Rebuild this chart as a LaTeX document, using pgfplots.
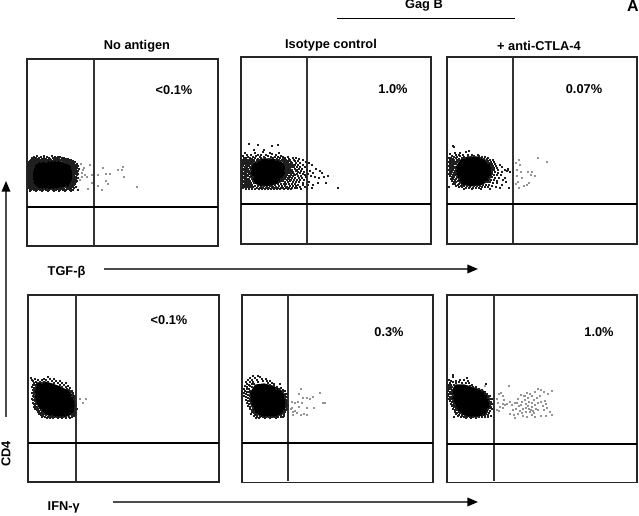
\documentclass[border=0pt]{standalone}
\usepackage{fontspec}
\setmainfont{Liberation Sans}
\usepackage{pgfplots}
\pgfplotsset{compat=1.18}
\usetikzlibrary{arrows.meta}
\newcommand{\lab}{\bfseries\fontsize{9.6}{11}\selectfont}
\pgfplotsset{
  panel/.style n args={4}{
    scale only axis, clip=false, anchor=south west,
    at={({#1*0.75pt},{(516-#4)*0.75pt})},
    width={(#2-#1)*0.75pt}, height={(#4-#3)*0.75pt},
    xmin=#1, xmax=#2, ymin=#3, ymax=#4, y dir=reverse,
    xtick=\empty, ytick=\empty,
    axis line style={line width=0.95pt, color=black!85},
  },
  core/.style={fill=black, draw=black, line width=2.4pt, line join=round, forget plot},
  dots/.style={only marks, mark=square*, mark size=0.27pt, mark options={draw=black!88, fill=black!88, line width=0pt}, forget plot},
  pale/.style={only marks, mark=square*, mark size=0.25pt, mark options={draw=black!42, fill=black!42, line width=0pt}, forget plot},
  gate/.style={line width=0.8pt, color=black!80, no marks, forget plot},
  gateh/.style={line width=0.85pt, color=black, no marks, forget plot},
}
\begin{document}
\begin{tikzpicture}[x=0.75pt,y=0.75pt]
\useasboundingbox (0,0) rectangle (639,516);
% ---- panel 1
\begin{axis}[panel={27}{218}{59}{246}]
\addplot[gate] coordinates {(94,59)(94,245)};
\addplot[gateh] coordinates {(27,207)(218,207)};
\addplot[core] coordinates {(36,165)(42,163)(52,162)(62,163)(69,166)(72,172)(72,180)(69,185)(60,187)(48,188)(38,187)(34,182)(33,174)} --cycle;
\addplot[dots] coordinates {(37,156)(44,156)(52,156)(58,157)(34,157)(41,157)(47,157)(55,157)(60,157)(64,158)(32,158)(36,158)(39,158)(44,158)(49,158)(53,158)(57,158)(62,158)(66,159)(33,159)(35,159)(38,159)(42,159)(46,159)(50,159)(54,159)(56,159)(59,159)(63,159)(68,159)(71,160)(31,160)(34,160)(37,160)(40,160)(43,160)(45,160)(48,160)(51,160)(55,160)(58,160)(61,160)(64,160)(66,160)(69,160)(73,161)(30,161)(32,161)(35,161)(37,161)(39,161)(42,161)(44,161)(47,161)(50,161)(53,161)(57,161)(60,161)(63,161)(65,161)(68,161)(70,161)(72,161)(75,162)(29,162)(31,162)(33,162)(35,162)(38,162)(41,162)(46,162)(63,162)(66,162)(69,162)(71,162)(74,163)(30,163)(32,163)(34,163)(37,163)(66,163)(68,163)(70,163)(72,163)(73,163)(77,164)(29,164)(31,164)(33,164)(35,164)(69,164)(71,164)(74,164)(76,165)(30,165)(32,165)(34,165)(71,165)(73,165)(75,165)(78,166)(28,166)(31,166)(33,166)(72,166)(74,166)(76,167)(29,167)(32,167)(34,167)(72,167)(75,167)(77,168)(30,168)(31,168)(33,168)(73,168)(74,168)(79,169)(29,169)(32,169)(72,169)(75,169)(76,170)(28,170)(30,170)(33,170)(74,170)(78,171)(29,171)(31,171)(73,171)(75,171)(77,172)(30,172)(32,172)(73,172)(76,173)(28,173)(31,173)(74,173)(78,174)(29,174)(32,174)(73,174)(75,174)(30,175)(31,175)(73,175)(77,175)(28,176)(32,176)(74,176)(76,177)(29,177)(31,177)(73,177)(75,177)(30,178)(32,178)(73,178)(78,178)(29,179)(31,179)(74,179)(76,179)(28,180)(32,180)(73,180)(75,180)(30,181)(33,181)(72,181)(77,181)(29,182)(31,182)(74,182)(76,182)(30,183)(32,183)(71,183)(73,183)(29,184)(33,184)(72,184)(75,184)(30,185)(31,185)(34,185)(70,185)(74,185)(29,186)(32,186)(35,186)(71,186)(73,186)(30,187)(33,187)(36,187)(66,187)(69,187)(72,187)(76,187)(29,188)(31,188)(34,188)(37,188)(60,188)(63,188)(67,188)(70,188)(74,188)(30,189)(32,189)(35,189)(38,189)(41,189)(44,189)(47,189)(51,189)(55,189)(58,189)(61,189)(64,189)(68,189)(71,189)(31,190)(34,190)(37,190)(40,190)(43,190)(46,190)(49,190)(53,190)(56,190)(60,190)(63,190)(66,190)(70,190)(73,190)(30,191)(36,191)(42,191)(48,191)(54,191)(59,191)(65,191)(71,191)(78,190)};
\addplot[pale] coordinates {(90,165)(92,175)(87,177)(88,189)(92,183)(98,175)(103,168)(106,174)(110,174)(106,181)(108,184)(98,186)(102,190)(118,170)(123,167)(122,170)(124,177)(137,187)(82,173)(83,170)(85,175)(80,180)(84,168)(81,164)(82,177)};
\node[font=\lab] at (axis cs:174,90) {<0.1\%};
\end{axis}
% ---- panel 2
\begin{axis}[panel={241}{431}{57}{244}]
\addplot[gate] coordinates {(307,57)(307,243)};
\addplot[gateh] coordinates {(241,204)(431,204)};
\addplot[core] coordinates {(256,163)(263,160)(272,160)(280,162)(284,167)(284,175)(280,181)(272,184)(262,185)(255,182)(252,175)(252,168)} --cycle;
\addplot[dots] coordinates {(249,144)(258,145)(272,146)(278,145)(254,150)(264,150)(245,153)(255,153)(263,152)(270,153)(279,153)(247,155)(251,155)(258,155)(261,155)(266,155)(272,154)(276,155)(281,156)(243,156)(248,157)(253,157)(256,156)(260,157)(264,157)(268,156)(271,157)(275,157)(278,157)(283,157)(288,157)(296,158)(244,158)(246,158)(250,158)(252,159)(255,158)(258,159)(261,158)(265,158)(269,159)(273,158)(277,159)(280,158)(283,159)(285,158)(289,159)(293,158)(299,159)(243,160)(245,160)(247,160)(249,160)(251,160)(254,160)(257,160)(260,160)(276,160)(279,160)(282,160)(284,160)(286,160)(290,160)(294,160)(303,160)(242,161)(244,161)(246,161)(248,161)(250,162)(252,161)(254,161)(257,162)(280,161)(283,161)(285,162)(287,161)(289,161)(291,162)(295,161)(298,161)(306,162)(243,162)(245,163)(247,163)(249,163)(251,163)(253,163)(284,163)(286,163)(288,163)(290,164)(292,163)(296,163)(300,163)(309,163)(242,164)(244,164)(246,165)(248,165)(250,164)(252,165)(285,165)(287,165)(289,165)(291,165)(293,165)(295,165)(298,165)(303,165)(312,165)(243,166)(245,167)(247,167)(249,166)(251,167)(286,167)(288,167)(290,167)(292,167)(294,167)(297,167)(300,167)(305,167)(242,168)(244,169)(246,169)(248,169)(250,168)(286,169)(288,169)(290,169)(292,170)(295,169)(297,170)(299,169)(302,169)(307,170)(316,169)(243,170)(245,171)(247,171)(249,171)(251,170)(285,171)(287,171)(289,171)(291,171)(293,172)(296,171)(298,172)(301,171)(304,172)(310,171)(320,171)(242,172)(244,173)(246,173)(248,172)(250,173)(286,173)(288,173)(290,173)(292,173)(294,174)(297,174)(300,173)(303,174)(308,174)(313,173)(243,174)(245,175)(247,175)(249,174)(251,175)(285,175)(287,175)(289,176)(291,175)(293,176)(295,175)(298,176)(301,176)(305,175)(311,176)(242,176)(244,177)(246,177)(248,176)(250,177)(253,177)(284,177)(286,177)(288,178)(290,177)(292,178)(295,178)(299,178)(302,178)(306,177)(315,177)(324,177)(243,178)(245,179)(247,179)(249,179)(252,179)(281,179)(283,179)(285,179)(287,180)(289,179)(291,180)(294,180)(297,180)(300,180)(304,180)(242,180)(244,181)(246,181)(248,181)(250,181)(253,181)(279,182)(281,181)(283,181)(285,182)(288,182)(290,181)(293,182)(296,182)(299,182)(303,183)(309,182)(318,183)(243,182)(245,183)(247,183)(249,183)(251,183)(254,183)(258,186)(272,186)(275,185)(278,184)(281,184)(284,184)(286,184)(289,184)(292,184)(295,184)(298,185)(303,185)(308,185)(313,185)(242,184)(244,185)(246,185)(248,185)(250,185)(252,185)(255,186)(261,187)(264,186)(267,187)(270,186)(273,187)(276,187)(279,186)(282,186)(285,186)(287,187)(290,186)(293,186)(296,186)(300,187)(305,187)(243,186)(245,187)(247,187)(249,187)(251,187)(253,187)(257,188)(260,188)(263,188)(266,188)(269,188)(272,188)(275,188)(278,188)(281,188)(283,188)(286,188)(289,188)(292,188)(295,188)(243,188)(246,189)(249,189)(252,189)(255,189)(259,189)(262,189)(265,189)(268,189)(271,189)(274,189)(277,189)(280,189)(284,189)(288,189)(291,189)(297,188)(301,189)(307,189)(312,188)(338,188)(328,176)(322,173)(319,178)(326,183)};
\node[font=\lab] at (axis cs:393,89) {1.0\%};
\end{axis}
% ---- panel 3
\begin{axis}[panel={447}{637}{57}{244}]
\addplot[gate] coordinates {(513,57)(513,243)};
\addplot[gateh] coordinates {(447,204)(637,204)};
\addplot[core] coordinates {(461,161)(468,158)(477,158)(485,161)(490,166)(491,173)(488,180)(480,184)(470,185)(462,183)(458,176)(457,168)} --cycle;
\addplot[dots] coordinates {(453,146)(454,147)(469,151)(455,153)(460,153)(466,152)(450,154)(456,155)(459,155)(463,155)(468,155)(472,155)(452,156)(454,157)(457,157)(460,156)(464,157)(468,157)(471,157)(474,156)(478,155)(449,158)(451,158)(453,159)(456,158)(459,159)(462,158)(465,158)(479,156)(482,157)(485,157)(488,158)(450,160)(452,160)(454,160)(457,160)(459,161)(481,158)(484,159)(487,159)(490,160)(493,160)(449,162)(451,162)(453,162)(455,162)(457,162)(486,161)(488,161)(491,162)(494,162)(450,164)(452,164)(454,164)(456,164)(488,163)(490,163)(492,164)(495,164)(449,166)(451,166)(453,166)(455,167)(491,166)(493,166)(496,166)(500,165)(450,168)(452,168)(454,168)(456,169)(492,168)(494,168)(497,168)(502,167)(449,170)(451,170)(453,170)(455,171)(492,170)(494,170)(498,170)(505,170)(450,172)(452,172)(454,173)(456,173)(492,172)(495,172)(498,173)(502,172)(508,170)(449,174)(451,174)(453,175)(455,175)(457,177)(492,174)(494,175)(497,175)(501,175)(507,171)(450,176)(452,177)(454,177)(456,179)(459,179)(490,177)(492,177)(495,178)(499,178)(505,178)(451,179)(453,179)(455,180)(458,181)(460,182)(489,179)(491,180)(494,180)(497,181)(503,180)(452,181)(454,182)(456,182)(459,184)(462,185)(486,182)(488,182)(490,182)(493,183)(497,183)(506,182)(453,184)(455,184)(458,185)(461,186)(464,186)(467,186)(470,187)(474,186)(477,186)(480,186)(483,185)(486,185)(489,185)(492,186)(502,185)(449,187)(456,186)(459,187)(462,187)(466,188)(469,188)(473,188)(476,188)(479,188)(482,187)(485,187)(488,187)(496,187)(500,188)(509,188)(464,189)(472,189)(481,189)(490,189)(508,169)(510,172)};
\addplot[pale] coordinates {(516,163)(519,160)(520,165)(517,170)(521,172)(517,176)(522,178)(518,182)(519,188)(524,186)(527,185)(529,183)(532,172)(531,175)(535,176)(538,158)(547,162)(528,172)(516,184)};
\node[font=\lab] at (axis cs:584,89) {0.07\%};
\end{axis}
% ---- panel 4
\begin{axis}[panel={28}{219}{295}{482}]
\addplot[gate] coordinates {(76,295)(76,481)};
\addplot[gateh] coordinates {(28,443)(219,443)};
\addplot[core] coordinates {(38,384)(45,383)(52,385)(60,388)(68,392)(73,398)(74,406)(72,413)(64,416)(54,416)(46,413)(40,407)(36,398)(36,390)} --cycle;
\addplot[dots] coordinates {(48,377)(31,378)(35,379)(44,379)(50,379)(54,379)(32,380)(38,380)(42,380)(46,380)(52,381)(56,381)(60,381)(33,381)(36,382)(40,382)(44,382)(48,382)(54,383)(58,383)(62,383)(66,383)(34,383)(37,383)(42,383)(60,385)(64,385)(68,386)(33,385)(35,385)(36,386)(62,387)(66,387)(70,388)(32,387)(34,388)(35,388)(67,389)(69,390)(72,391)(33,390)(35,390)(34,392)(71,392)(73,393)(70,391)(32,393)(34,394)(35,394)(73,395)(75,396)(72,396)(33,396)(34,397)(32,399)(35,399)(75,398)(74,399)(33,400)(35,401)(36,402)(75,401)(33,403)(34,404)(36,404)(75,404)(76,405)(35,406)(37,407)(34,407)(75,407)(36,408)(38,409)(35,409)(75,409)(77,409)(37,410)(39,411)(41,410)(75,411)(38,412)(40,413)(42,412)(74,413)(76,413)(39,414)(42,414)(44,414)(73,414)(75,415)(41,415)(43,416)(46,415)(49,416)(52,416)(72,415)(74,416)(42,417)(45,417)(48,417)(51,417)(54,417)(57,417)(60,417)(63,417)(66,417)(69,417)(72,417)(47,418)(50,418)(53,418)(58,418)(62,418)(66,418)(70,418)};
\addplot[pale] coordinates {(80,399)(83,403)(86,399)};
\node[font=\lab] at (axis cs:169,320) {<0.1\%};
\end{axis}
% ---- panel 5
\begin{axis}[panel={242}{433}{295}{482.5}]
\addplot[gate] coordinates {(288,295)(288,481.5)};
\addplot[gateh] coordinates {(242,443)(433,443)};
\addplot[core] coordinates {(256,386)(264,385)(272,387)(280,391)(284,397)(285,405)(282,413)(274,416)(263,416)(256,412)(252,404)(251,394)} --cycle;
\addplot[dots] coordinates {(253,376)(258,376)(260,377)(250,378)(255,378)(262,379)(266,379)(248,380)(252,380)(257,380)(263,381)(267,381)(270,381)(272,383)(246,382)(250,382)(253,382)(258,382)(268,383)(274,384)(280,384)(247,384)(249,385)(252,384)(254,384)(270,385)(274,386)(277,387)(281,388)(245,386)(247,387)(250,386)(252,387)(276,389)(279,389)(283,390)(285,391)(244,389)(247,389)(249,389)(283,392)(285,394)(287,394)(245,391)(247,392)(249,392)(250,391)(285,396)(287,397)(285,398)(244,393)(246,394)(248,395)(250,396)(286,400)(287,401)(244,396)(246,397)(248,398)(250,399)(286,402)(287,404)(246,400)(248,401)(250,401)(251,403)(286,405)(288,406)(247,403)(249,404)(252,406)(286,407)(287,409)(248,406)(250,407)(253,408)(286,410)(284,411)(250,409)(252,410)(254,411)(285,412)(283,413)(252,412)(254,413)(256,414)(284,414)(281,415)(284,416)(251,414)(255,415)(257,416)(260,416)(278,416)(281,417)(254,416)(257,417)(260,417)(263,417)(266,417)(269,417)(272,417)(275,417)(278,417)(283,417)(256,418)(259,418)(265,418)(270,418)(276,418)};
\addplot[pale] coordinates {(320,393)(301,389)(298,402)(303,398)(307,398)(313,397)(325,403)(323,403)(307,408)(314,408)(307,415)(301,415)(293,412)(292,402)(295,403)(299,394)(302,403)(310,399)(297,413)(291,409)(292,408)(295,411)(299,407)(304,414)(293,415)};
\node[font=\lab] at (axis cs:389,332) {0.3\%};
\end{axis}
% ---- panel 6
\begin{axis}[panel={447}{637}{295}{482.5}]
\addplot[gate] coordinates {(494,295)(494,481.5)};
\addplot[gateh] coordinates {(447,444)(637,444)};
\addplot[core] coordinates {(456,386)(464,386)(474,389)(483,392)(488,398)(489,406)(485,413)(476,416)(466,415)(459,410)(454,401)(453,392)} --cycle;
\addplot[dots] coordinates {(453,375)(453,377)(467,378)(449,380)(451,381)(456,381)(460,380)(464,380)(468,381)(450,383)(453,382)(456,383)(459,382)(462,383)(466,383)(469,383)(472,385)(449,385)(451,385)(454,385)(470,386)(473,387)(476,387)(448,387)(450,387)(452,387)(476,388)(479,389)(482,390)(486,384)(449,389)(451,389)(452,390)(482,391)(485,392)(487,394)(448,391)(450,392)(452,392)(485,394)(488,396)(490,396)(449,394)(451,394)(453,395)(488,398)(490,399)(492,399)(448,396)(450,397)(452,397)(489,401)(491,402)(449,399)(451,399)(453,400)(490,403)(492,404)(450,401)(452,402)(454,403)(490,405)(491,407)(451,404)(453,405)(455,405)(490,408)(492,409)(452,406)(454,407)(456,408)(488,409)(490,411)(453,409)(455,410)(457,410)(459,412)(487,412)(489,413)(455,412)(457,413)(460,413)(462,415)(486,414)(488,415)(456,414)(459,415)(462,416)(465,416)(483,415)(485,416)(488,417)(458,416)(461,417)(464,417)(467,417)(470,417)(473,417)(476,417)(479,417)(482,417)(485,417)(491,416)(454,417)(466,418)(471,418)(476,418)};
\addplot[pale] coordinates {(485,386)(509,386)(499,394)(501,393)(497,399)(503,396)(504,400)(498,403)(503,404)(500,407)(505,405)(497,410)(499,411)(503,408)(507,404)(510,402)(512,405)(515,403)(518,399)(521,395)(524,396)(527,393)(519,406)(522,402)(525,400)(528,398)(530,394)(532,396)(535,392)(538,389)(541,390)(526,404)(529,402)(532,403)(534,400)(537,398)(540,396)(544,392)(548,394)(552,391)(513,410)(516,409)(520,411)(523,409)(526,408)(529,409)(532,407)(535,405)(538,403)(541,402)(545,401)(510,414)(514,415)(518,414)(522,413)(526,412)(530,412)(533,411)(536,409)(538,410)(515,418)(523,416)(527,417)(532,415)(535,417)(541,416)(546,416)(544,410)(547,408)(550,412)(552,415)(546,404)(543,406)(525,396)(528,406)(531,410)(534,413)(521,405)(517,403)};
\node[font=\lab] at (axis cs:599,332) {1.0\%};
\end{axis}
% ---- annotations
\newcommand{\px}[2]{(#1,{516-(#2)})}
\node[font=\lab] at \px{137}{46} {No antigen};
\node[font=\lab] at \px{331}{45} {Isotype control};
\node[font=\lab] at \px{539}{46} {+ anti-CTLA-4};
\node[font=\lab] at \px{424}{5.5} {Gag B};
\node[font=\bfseries\fontsize{12}{13}\selectfont] at \px{633}{6.5} {A};
\draw[line width=0.7pt] \px{337}{18} -- \px{515}{18};
\node[font=\lab,anchor=west] at \px{43}{272} {TGF-β};
\node[font=\lab,anchor=west] at \px{43}{507.5} {IFN-γ};
\node[font=\lab,rotate=90] at \px{6}{454} {CD4};
\draw[line width=1pt,color=black!70,-{Triangle[length=8pt,width=6.5pt,color=black]}] \px{104}{269} -- \px{478}{269};
\draw[line width=1.1pt,color=black!70,-{Triangle[length=8pt,width=6.5pt,color=black]}] \px{113}{502} -- \px{478}{502};
\draw[line width=1pt,color=black!70,-{Triangle[length=8pt,width=6.5pt,color=black]}] \px{6}{417} -- \px{6}{181};
\end{tikzpicture}
\end{document}
